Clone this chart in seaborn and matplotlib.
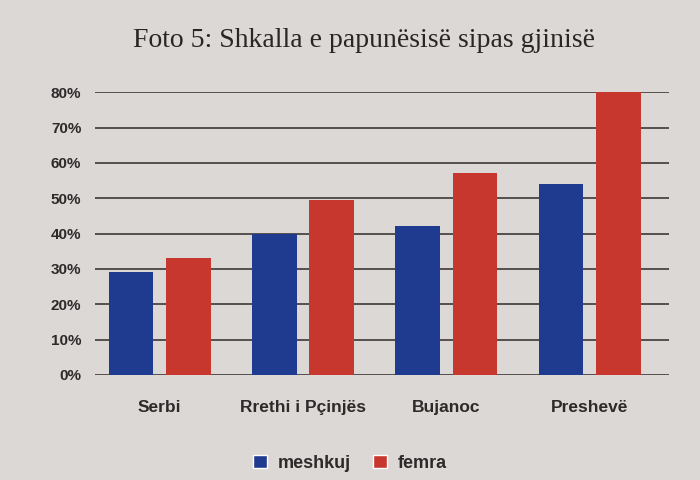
import matplotlib
matplotlib.use("Agg")
import matplotlib.pyplot as plt
import seaborn as sns
import pandas as pd
from matplotlib.patches import Patch

categories = ["Serbi", "Rrethi i Pçinjës", "Bujanoc", "Preshevë"]
meshkuj = [29, 40, 42, 54]
femra = [33, 49.5, 57, 80]
series = ["meshkuj", "femra"]
yticks = [0, 10, 20, 30, 40, 50, 60, 70, 80]

df = pd.DataFrame({
    "Rajoni": categories * 2,
    "Gjinia": [series[0]] * len(categories) + [series[1]] * len(categories),
    "Vlera": meshkuj + femra,
})

sns.set_theme(style="white")
plt.rcParams["font.family"] = ["Liberation Sans", "DejaVu Sans"]

bg = "#dcd8d6"
blue = "#1f3b8f"
red = "#c8372d"
fig = plt.figure(figsize=(7, 4.8), dpi=100, facecolor=bg)
ax = fig.add_axes([0.136, 0.219, 0.819, 0.589], facecolor=bg)

ax.set_ylim(0, 80)
for v in yticks:
    ax.axhline(v, color="#4a4444", lw=1.3, zorder=0)

sns.barplot(data=df, x="Rajoni", y="Vlera", hue="Gjinia",
            palette={"meshkuj": blue, "femra": red},
            width=0.8, gap=0.22, saturation=1, linewidth=0,
            ax=ax, legend=False, zorder=2)

ax.set_xlim(-0.45, 3.55)
ax.set_yticks(yticks)
ax.set_yticklabels([f"{v}%" for v in yticks], fontsize=11, fontweight="bold", color="#2e2a2a")
ax.set_xticklabels(categories, fontsize=12.5, fontweight="bold", color="#2e2a2a")
ax.tick_params(axis="x", pad=18, length=0)
ax.tick_params(axis="y", pad=10, length=0)
ax.set_xlabel("")
ax.set_ylabel("")
for s in ax.spines.values():
    s.set_visible(False)

fig.text(0.52, 0.915, "Foto 5: Shkalla e papunësisë sipas gjinisë",
         ha="center", va="center", fontsize=20, family=["Liberation Serif", "DejaVu Serif"],
         color="#2a2626")

handles = [Patch(facecolor=blue), Patch(facecolor=red)]
leg = fig.legend(handles, series, loc="center", bbox_to_anchor=(0.5, 0.035), ncol=2,
                 frameon=False, handlelength=0.8, handleheight=0.8, columnspacing=1.2,
                 handletextpad=0.6, prop={"size": 13, "weight": "bold"})
for t in leg.get_texts():
    t.set_color("#2e2a2a")

fig.savefig("out.png", dpi=100, facecolor=bg)
